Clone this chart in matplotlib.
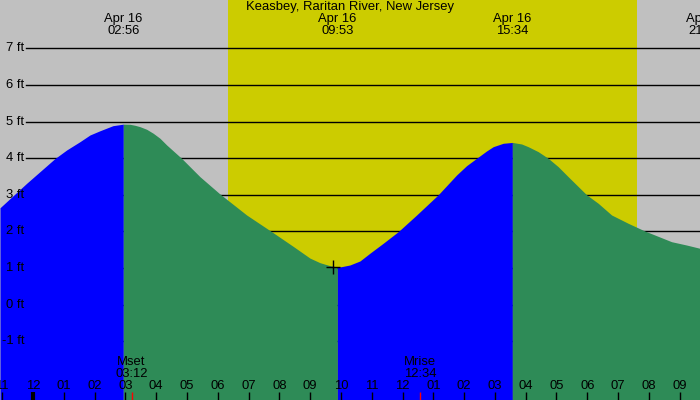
import matplotlib
matplotlib.use("Agg")
import matplotlib.pyplot as plt
import matplotlib.transforms as mtransforms

# ---- data (hours from midnight Apr 16, feet) ----
seg1_t = [-1.071, -0.205, 0.714, 1.094, 1.526, 1.851, 2.175, 2.597, 2.933]
seg1_h = [2.645, 3.314, 3.99, 4.224, 4.451, 4.634, 4.749, 4.888, 4.93]
seg2_t = [2.933, 3.149, 3.31, 3.474, 3.69, 3.906, 4.123, 4.341, 4.828, 5.422, 6.071,
          6.938, 7.75, 8.451, 8.994, 9.318, 9.643, 9.883]
seg2_h = [4.93, 4.926, 4.899, 4.861, 4.79, 4.68, 4.544, 4.361, 3.994, 3.494, 3.022,
          2.448, 1.992, 1.59, 1.27, 1.145, 1.063, 1.02]
seg3_t = [9.883, 9.968, 10.292, 10.617, 10.942, 11.373, 11.86, 12.458, 13.159, 13.756,
          14.08, 14.406, 14.73, 14.945, 15.27, 15.567]
seg3_h = [1.02, 1.027, 1.082, 1.191, 1.404, 1.675, 1.992, 2.448, 3.0, 3.541,
          3.795, 3.997, 4.197, 4.314, 4.407, 4.43]
seg4_t = [15.567, 15.867, 16.081, 16.406, 16.73, 17.055, 17.38, 17.977, 18.354, 18.789,
          19.328, 19.87, 20.737, 21.22, 21.656]
seg4_h = [4.43, 4.388, 4.314, 4.178, 3.997, 3.768, 3.494, 3.0, 2.768, 2.448,
          2.221, 2.01, 1.718, 1.628, 1.538]

extreme_t = [2.933, 9.883, 15.567, 21.817]
extreme_lbl = ["02:56", "09:53", "15:34", "21:49"]
date_lbl = "Apr 16"
title = "Keasbey, Raritan River, New Jersey"

sunrise, sunset = 6.33, 19.61
moon_t = [3.2, 12.567]
moon_name = ["Mset", "Mrise"]
moon_lbl = ["03:12", "12:34"]

grid_ft = [7, 6, 5, 4, 3, 2, 1, 0, -1]
hour_t = list(range(-1, 22))
hour_lbl = ["11", "12", "01", "02", "03", "04", "05", "06", "07", "08", "09", "10",
            "11", "12", "01", "02", "03", "04", "05", "06", "07", "08", "09"]
marker_t, marker_h = 9.75, 1.02

# ---- drawing ----
FS = 9.4
plt.rcParams['font.family'] = ['Liberation Sans', 'DejaVu Sans']
fig = plt.figure(figsize=(7, 4), dpi=100)
ax = fig.add_axes([0, 0, 1, 1])
ax.set_xlim(-1.071, 21.66)
ax.set_ylim(-2.607, 8.322)
ax.axis('off')
fig.patch.set_facecolor('#c0c0c0')
ax.set_facecolor('#c0c0c0')

ax.axvspan(sunrise, sunset, color='#cccc00', zorder=0, lw=0)

x_grid_start = -1.071 + 26 / 30.8
for g in grid_ft:
    ax.plot([x_grid_start, 21.66], [g, g], color='black', lw=1.0, zorder=1)
    ax.text(x_grid_start - 0.06, g, f"{g} ft", ha='right', va='center',
            fontsize=FS, color='black', zorder=5)

bottom = -3
ax.fill_between(seg1_t, seg1_h, bottom, color='#0000ff', lw=0, zorder=2)
ax.fill_between(seg2_t, seg2_h, bottom, color='#2e8b57', lw=0, zorder=2)
ax.fill_between(seg3_t, seg3_h, bottom, color='#0000ff', lw=0, zorder=2)
ax.fill_between(seg4_t, seg4_h, bottom, color='#2e8b57', lw=0, zorder=2)

ax.plot([marker_t], [marker_h], marker='+', color='black', markersize=10,
        mew=1.0, zorder=6)

trans = mtransforms.blended_transform_factory(ax.transData, ax.transAxes)
ax.text(0.5, 0.982, title, transform=ax.transAxes, ha='center', va='center',
        fontsize=FS)
for t, l in zip(extreme_t, extreme_lbl):
    ax.text(t, 0.9525, date_lbl, transform=trans, ha='center', va='center', fontsize=FS)
    ax.text(t, 0.9225, l, transform=trans, ha='center', va='center', fontsize=FS)

for t, l in zip(hour_t, hour_lbl):
    ax.text(t, 0.035, l, transform=trans, ha='center', va='center', fontsize=FS, zorder=6)
    ax.plot([t, t], [0, 0.02], transform=trans, color='black', lw=1.0, zorder=6,
            solid_capstyle='butt')
ax.plot([0, 0], [0, 0.02], transform=trans, color='black', lw=3.0, zorder=6,
        solid_capstyle='butt')

for t, n, l in zip(moon_t, moon_name, moon_lbl):
    ax.text(t, 0.095, n, transform=trans, ha='center', va='center', fontsize=FS, zorder=6)
    ax.text(t, 0.065, l, transform=trans, ha='center', va='center', fontsize=FS, zorder=6)
    ax.plot([t, t], [0, 0.02], transform=trans, color='red', lw=1.0, zorder=7,
            solid_capstyle='butt')

fig.savefig("out.png", dpi=100, facecolor=fig.get_facecolor())
